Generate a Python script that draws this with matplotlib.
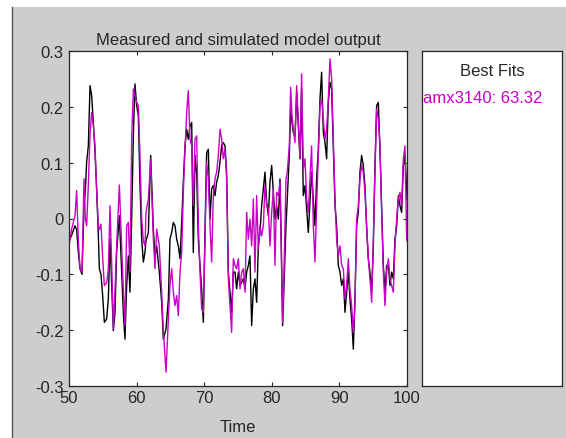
import numpy as np
import matplotlib
matplotlib.use("Agg")
import matplotlib.pyplot as plt
from matplotlib.patches import Rectangle
from matplotlib.lines import Line2D

plt.rcParams["font.family"] = ["Liberation Sans", "DejaVu Sans"]
plt.rcParams["axes.unicode_minus"] = False

# Time axis (three stretches)
time_a = [50.00, 50.39, 50.89, 51.13, 51.38, 51.63, 51.92, 52.22, 52.42, 52.61,
          52.86, 53.11, 53.35, 53.60, 53.85, 54.09, 54.34, 54.49, 54.73, 54.98,
          55.23, 55.57, 55.82, 56.07, 56.31, 56.56, 56.80, 57.05, 57.45, 57.79,
          58.04, 58.28, 58.53, 58.78, 59.02, 59.27, 59.52, 59.76, 60.01, 60.26,
          60.50, 60.75, 61.00, 61.24, 61.39, 61.74, 62.08, 62.48, 62.72, 62.97,
          63.36, 63.71, 63.95, 64.35, 64.70, 64.94]
time_b = [65.19, 65.43, 65.68, 65.93, 66.17, 66.42, 66.67, 66.91, 67.16, 67.41,
          67.65, 67.90, 68.15, 68.39, 68.64, 68.89, 69.13, 69.38, 69.62, 69.87,
          70.12, 70.36, 70.61, 70.86, 71.10, 71.35, 71.60, 71.84, 72.09, 72.34,
          72.58, 72.83, 73.08, 73.32, 73.57, 73.82, 74.06, 74.31, 74.56, 74.80,
          75.05, 75.30, 75.54, 75.79, 76.04, 76.28, 76.53, 76.77, 77.02, 77.27,
          77.51, 77.76, 78.01, 78.25, 78.50, 78.75, 78.99, 79.24, 79.49, 79.73,
          79.98, 80.23, 80.47, 80.72, 80.97, 81.21]
time_c = [81.41, 81.60, 81.80, 82.10, 82.29, 82.59, 82.79, 82.99, 83.18,
          83.43, 83.68, 83.92, 84.17, 84.41, 84.66, 84.91, 85.15, 85.40, 85.65,
          85.89, 86.14, 86.39, 86.63, 86.88, 87.13, 87.37, 87.62, 87.87, 88.11,
          88.36, 88.61, 88.85, 89.10, 89.35, 89.59, 89.84, 90.09, 90.33, 90.58,
          90.83, 91.07, 91.32, 91.56, 91.81, 92.06, 92.30, 92.55, 92.80, 93.04,
          93.29, 93.54, 93.78, 94.03, 94.28, 94.52, 94.77, 95.02, 95.26, 95.51,
          95.76, 96.00, 96.25, 96.50, 96.74, 96.99, 97.24, 97.48, 97.73, 97.98,
          98.22, 98.47, 98.72, 98.96, 99.21, 99.46, 99.70, 99.95, 100.00]

# Measured output (black)
measured_a = [-0.040, -0.030, -0.013, -0.020, -0.060, -0.090, -0.100, 0.020, 0.050, 0.101,
              0.130, 0.238, 0.220, 0.172, 0.118, 0.053, -0.030, -0.090, -0.100, -0.138,
              -0.186, -0.180, -0.144, -0.037, -0.120, -0.201, -0.170, -0.060, 0.005, -0.096,
              -0.170, -0.216, -0.120, -0.067, -0.132, 0.000, 0.150, 0.241, 0.202, 0.184,
              0.060, -0.037, -0.078, -0.060, -0.040, -0.025, 0.113, -0.020, -0.067, -0.049,
              -0.096, -0.150, -0.216, -0.198, -0.144, -0.037]
measured_b = [-0.025, -0.007, -0.013, -0.037, -0.049, -0.072, -0.007, 0.065, 0.130, 0.160,
              0.142, 0.166, 0.172, -0.061, 0.113, 0.080, -0.037, -0.084, -0.126, -0.186,
              -0.020, 0.118, 0.124, -0.001, 0.053, 0.059, 0.041, 0.065, 0.077, 0.101,
              0.130, 0.136, 0.130, 0.083, -0.096, -0.132, -0.168, -0.096, -0.096, -0.126,
              -0.096, -0.120, -0.114, -0.108, -0.126, -0.096, -0.084, -0.067, -0.192, -0.126,
              -0.108, -0.150, -0.049, -0.025, 0.023, 0.053, 0.083, 0.029, 0.005, 0.065,
              0.095, 0.047, -0.001, 0.023, -0.001, 0.071]
measured_c = [-0.050, -0.192, -0.120, -0.013, 0.035, 0.113, 0.196, 0.172, 0.154,
              0.148, 0.226, 0.166, 0.107, 0.232, 0.041, 0.059, 0.017, -0.025, 0.029,
              0.083, 0.035, -0.013, 0.071, 0.124, 0.214, 0.262, 0.154, 0.136, 0.107,
              0.208, 0.244, 0.232, 0.124, 0.023, -0.013, -0.084, -0.096, -0.120, -0.108,
              -0.168, -0.132, -0.096, -0.144, -0.180, -0.234, -0.144, -0.013, 0.011, 0.083,
              0.113, 0.095, 0.059, -0.019, -0.072, -0.096, -0.132, -0.049, 0.095, 0.202,
              0.208, 0.124, 0.023, -0.084, -0.132, -0.084, -0.084, -0.120, -0.096, -0.108,
              -0.037, -0.013, 0.041, 0.023, 0.011, 0.095, 0.113, 0.053, 0.035]

# Simulated model output amx3140 (magenta)
simulated_a = [-0.049, -0.019, 0.005, 0.050, -0.040, -0.090, -0.096, 0.071, 0.000, -0.013,
               0.060, 0.150, 0.190, 0.166, 0.130, 0.050, -0.013, -0.020, -0.010, -0.070,
               -0.120, -0.115, -0.090, 0.023, -0.080, -0.198, -0.130, -0.049, 0.060, -0.049,
               -0.130, -0.192, -0.013, -0.007, -0.096, 0.142, 0.232, 0.220, 0.208, 0.202,
               0.113, 0.000, -0.040, -0.049, 0.011, 0.035, 0.107, -0.037, -0.090, -0.019,
               -0.049, -0.132, -0.200, -0.275, -0.180, -0.120]
simulated_b = [-0.090, -0.132, -0.156, -0.138, -0.174, -0.096, -0.060, 0.047, 0.124, 0.190,
               0.229, 0.142, 0.130, 0.023, 0.142, 0.148, -0.013, -0.096, -0.162, -0.168,
               -0.037, 0.101, 0.071, -0.013, -0.078, 0.041, 0.071, 0.083, 0.113, 0.160,
               0.142, 0.107, 0.124, 0.071, -0.108, -0.156, -0.204, -0.072, -0.084, -0.090,
               -0.072, -0.126, -0.096, -0.090, -0.132, 0.011, -0.037, -0.001, -0.049, 0.035,
               -0.096, 0.041, -0.055, -0.013, -0.031, -0.013, 0.059, 0.023, 0.017, -0.049,
               0.011, 0.053, -0.084, 0.047, 0.041, 0.065]
simulated_c = [-0.060, -0.186, -0.096, 0.071, 0.083, 0.130, 0.235, 0.184, 0.160,
               0.136, 0.238, 0.172, 0.107, 0.259, 0.089, 0.107, 0.035, 0.011, 0.071,
               0.130, -0.013, -0.078, 0.023, 0.113, 0.202, 0.214, 0.178, 0.142, 0.160,
               0.214, 0.286, 0.250, 0.142, 0.035, -0.037, -0.067, -0.049, -0.084, -0.090,
               -0.144, -0.120, -0.072, -0.126, -0.156, -0.204, -0.156, -0.001, 0.023, 0.071,
               0.095, 0.083, 0.047, -0.013, -0.072, -0.108, -0.150, -0.037, 0.083, 0.196,
               0.178, 0.130, 0.011, -0.096, -0.156, -0.096, -0.072, -0.108, -0.120, -0.132,
               -0.049, -0.001, 0.035, 0.047, 0.023, 0.107, 0.130, -0.037, -0.040]

x_ticks = [50, 60, 70, 80, 90, 100]
y_ticks = [-0.3, -0.2, -0.1, 0, 0.1, 0.2, 0.3]
y_tick_labels = ["-0.3", "-0.2", "-0.1", "0", "0.1", "0.2", "0.3"]

model_name = "amx3140"
fit_percent = 63.32

MAGENTA = "#c800c8"
GRAY = "#cdcdcd"
INK = "#262626"
FS = 12

time = np.array(time_a + time_b + time_c)
measured = np.array(measured_a + measured_b + measured_c)
simulated = np.array(simulated_a + simulated_b + simulated_c)
assert len(time) == len(measured) == len(simulated)

fig = plt.figure(figsize=(5.66, 4.39), dpi=100, facecolor="white")

# gray window area with a dark left border, like the MATLAB figure
fig.patches.append(Rectangle((12 / 566, 0), 1, 1 - 8 / 439, transform=fig.transFigure,
                             facecolor=GRAY, edgecolor="none", zorder=-10))
fig.lines.append(Line2D([11.5 / 566, 11.5 / 566], [0, 1 - 8 / 439], transform=fig.transFigure,
                        color="#555555", linewidth=1.0, zorder=-9))

ax = fig.add_axes([69 / 566, 1 - 387 / 439, 338 / 566, 335 / 439])
ax.plot(time, measured, color="black", linewidth=1.0)
ax.plot(time, simulated, color=MAGENTA, linewidth=1.0)
ax.set_xlim(50, 100)
ax.set_ylim(-0.3, 0.3)
ax.set_xticks(x_ticks)
ax.set_yticks(y_ticks)
ax.set_yticklabels(y_tick_labels)
ax.tick_params(direction="in", length=3, width=0.8, top=True, right=True,
               labelsize=FS, colors=INK)
ax.tick_params(axis="x", pad=3)
ax.tick_params(axis="y", pad=4)
ax.set_title("Measured and simulated model output", fontsize=FS, color=INK, pad=4.7)
ax.set_xlabel("Time", fontsize=FS, color=INK, labelpad=10)
for s in ax.spines.values():
    s.set_color(INK)
    s.set_linewidth(0.9)

# side panel with the fit value
ax2 = fig.add_axes([422 / 566, 1 - 387 / 439, 140 / 566, 335 / 439])
ax2.set_xticks([])
ax2.set_yticks([])
for s in ax2.spines.values():
    s.set_color(INK)
    s.set_linewidth(0.9)
ax2.text(0.5, 0.943, "Best Fits", ha="center", va="center", fontsize=FS,
         color=INK, transform=ax2.transAxes)
ax2.text(0.008, 0.861, f"{model_name}: {fit_percent:.2f}", ha="left", va="center",
         fontsize=FS, color=MAGENTA, transform=ax2.transAxes)

fig.savefig("out.png", dpi=100, facecolor=fig.get_facecolor())
